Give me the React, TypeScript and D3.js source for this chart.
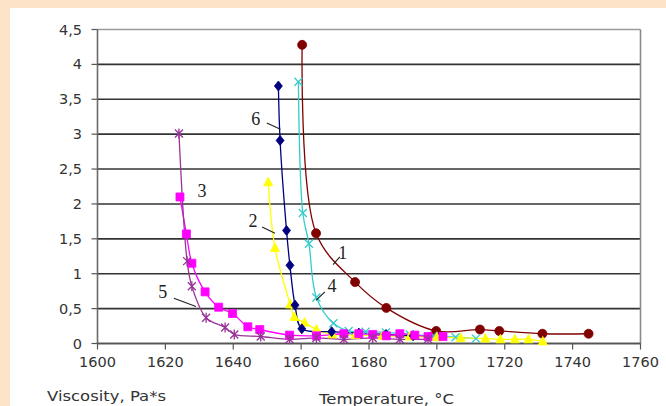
import * as d3 from "d3";

// temperature (°C) / viscosity (Pa*s) per curve
const t1 = [1660.3, 1664.4, 1675.9, 1685.1, 1699.8, 1712.7, 1718.4, 1731.1, 1744.7];
const v1 = [4.28, 1.58, 0.88, 0.51, 0.18, 0.2, 0.18, 0.14, 0.14];

const t2 = [1650.3, 1652.3, 1656.8, 1658, 1661, 1664.5, 1669.2, 1676, 1684, 1692, 1700, 1707, 1714.3, 1718.7, 1723, 1727, 1731.2];
const v2 = [2.31, 1.37, 0.56, 0.38, 0.3, 0.2, 0.13, 0.12, 0.11, 0.1, 0.09, 0.08, 0.07, 0.06, 0.06, 0.06, 0.03];

const t3 = [1624.3, 1626.2, 1627.8, 1631.7, 1635.7, 1639.8, 1644.3, 1647.8, 1656.6, 1664.5, 1672.6, 1677, 1681.1, 1685.1, 1689.1, 1693.5, 1697.4, 1701.8];
const v3 = [2.1, 1.57, 1.15, 0.74, 0.52, 0.43, 0.24, 0.2, 0.12, 0.11, 0.14, 0.14, 0.13, 0.11, 0.14, 0.12, 0.1, 0.1];

const t4 = [1659.2, 1660.5, 1662.3, 1664.5, 1669.5, 1674, 1679, 1685, 1692, 1699, 1705.5, 1711.5];
const v4 = [3.75, 1.87, 1.43, 0.66, 0.29, 0.18, 0.17, 0.16, 0.13, 0.11, 0.09, 0.07];

const t5 = [1624, 1626.4, 1627.8, 1632, 1637.6, 1640.3, 1648.1, 1656.6, 1664.5, 1672.6, 1681.1, 1689.1, 1697.4];
const v5 = [3.01, 1.18, 0.82, 0.37, 0.23, 0.13, 0.1, 0.06, 0.08, 0.06, 0.08, 0.06, 0.06];

const t6 = [1653.3, 1653.8, 1655.7, 1656.7, 1658.2, 1660.2, 1669, 1677, 1685, 1693];
const v6 = [3.69, 2.91, 1.62, 1.12, 0.55, 0.21, 0.17, 0.15, 0.13, 0.11];

const xTicks = [1600, 1620, 1640, 1660, 1680, 1700, 1720, 1740, 1760];
const yTicks = [0, 0.5, 1, 1.5, 2, 2.5, 3, 3.5, 4, 4.5];

// curve number labels: [text, labelT, labelV, leader from T,V, leader to T,V]
const curveLabels: [string, number, number, number, number, number, number][] = [
  ["6", 1646.6, 3.22, 1649.9, 3.16, 1653.9, 3.07],
  ["3", 1630.8, 2.19, 0, 0, 0, 0],
  ["2", 1645.8, 1.76, 1648.5, 1.67, 1652.3, 1.58],
  ["1", 1672.3, 1.3, 1671.4, 1.24, 1669.4, 1.13],
  ["4", 1669.1, 0.82, 1667, 0.74, 1664.4, 0.62],
  ["5", 1619.2, 0.74, 1622.5, 0.65, 1629, 0.53],
];

type Marker = "circle" | "diamond" | "triangle" | "x" | "square" | "star";

const series: { t: number[]; v: number[]; color: string; marker: Marker }[] = [
  { t: t1, v: v1, color: "#800000", marker: "circle" },
  { t: t4, v: v4, color: "#33CCCC", marker: "x" },
  { t: t2, v: v2, color: "#FFFF00", marker: "triangle" },
  { t: t6, v: v6, color: "#000080", marker: "diamond" },
  { t: t3, v: v3, color: "#FF00FF", marker: "square" },
  { t: t5, v: v5, color: "#993399", marker: "star" },
];

const fmt = (d: number) => String(d).replace(".", ",");

function markerPath(m: Marker): string {
  switch (m) {
    case "circle":
      return d3.symbol(d3.symbolCircle, 64)()!;
    case "diamond":
      return `M0,-5L4,0L0,5L-4,0Z`;
    case "triangle":
      return `M0,-5L4.5,3.5L-4.5,3.5Z`;
    case "square":
      return `M-4,-4H4V4H-4Z`;
    case "x":
      return `M-4,-4L4,4M-4,4L4,-4`;
    case "star":
      return `M-4,-4L4,4M-4,4L4,-4M0,-5V5`;
  }
  return "";
}

export default function App() {
  const x = d3.scaleLinear().domain([1600, 1760]).range([97.5, 640.5]);
  const y = d3.scaleLinear().domain([0, 4.5]).range([343.5, 29.5]);

  const line = d3
    .line<[number, number]>()
    .x((d) => x(d[0]))
    .y((d) => y(d[1]))
    .curve(d3.curveCatmullRom.alpha(0.5));

  return (
    <div style={{ position: "absolute", left: 0, top: 0, width: 666, height: 406 }}>
      <svg width={666} height={406} style={{ display: "block" }}>
        <rect x={0} y={0} width={666} height={406} fill="#FDE3C8" />
        <rect x={10} y={8} width={656} height={398} fill="#FFFFFF" />

        {/* grid */}
        {yTicks.map((d) => (
          <line
            key={"g" + d}
            x1={x(1600)}
            x2={x(1760)}
            y1={y(d)}
            y2={y(d)}
            stroke={d === 4.5 ? "#9a9a9a" : "#333"}
            strokeWidth={d === 4.5 ? 1.5 : 1.6}
          />
        ))}
        <line x1={x(1760)} x2={x(1760)} y1={y(4.5)} y2={y(0)} stroke="#8a8a8a" strokeWidth={1.6} />
        <line x1={x(1600)} x2={x(1600)} y1={y(4.5)} y2={y(0)} stroke="#6a6a6a" strokeWidth={1.6} />
        <line x1={x(1600)} x2={x(1760)} y1={y(0)} y2={y(0)} stroke="#555" strokeWidth={1.6} />

        {/* y ticks */}
        {yTicks.map((d) => (
          <g key={"y" + d}>
            <line x1={x(1600) - 6} x2={x(1600)} y1={y(d)} y2={y(d)} stroke="#555" strokeWidth={1.2} />
            <text
              x={82}
              y={y(d) + 5}
              textAnchor="end"
              fontFamily="DejaVu Sans"
              fontSize={14.5}
              fill="#333"
            >
              {fmt(d)}
            </text>
          </g>
        ))}

        {/* x ticks */}
        {xTicks.map((d) => (
          <g key={"x" + d}>
            <line x1={x(d)} x2={x(d)} y1={y(0)} y2={y(0) + 6} stroke="#555" strokeWidth={1.2} />
            <text
              x={x(d)}
              y={367}
              textAnchor="middle"
              fontFamily="DejaVu Sans"
              fontSize={14.5}
              fill="#333"
            >
              {d}
            </text>
          </g>
        ))}

        {/* curves */}
        {series.map((s, i) => (
          <path
            key={"l" + i}
            d={line(s.t.map((t, j) => [t, s.v[j]] as [number, number])) ?? ""}
            fill="none"
            stroke={s.color}
            strokeWidth={1.3}
          />
        ))}
        {series.map((s, i) => (
          <g key={"m" + i}>
            {s.t.map((t, j) => {
              const stroked = s.marker === "x" || s.marker === "star";
              return (
                <path
                  key={j}
                  transform={`translate(${x(t)},${y(s.v[j])})`}
                  d={markerPath(s.marker)}
                  fill={stroked ? "none" : s.color}
                  stroke={s.color}
                  strokeWidth={stroked ? 1.3 : 0.8}
                />
              );
            })}
          </g>
        ))}

        {/* curve labels */}
        {curveLabels.map(([txt, lt, lv, a, b, c, e]) => (
          <g key={"c" + txt}>
            {a > 0 && (
              <line x1={x(a)} y1={y(b)} x2={x(c)} y2={y(e)} stroke="#222" strokeWidth={1.1} />
            )}
            <text
              x={x(lt)}
              y={y(lv) + 6}
              textAnchor="middle"
              fontFamily="Liberation Serif"
              fontSize={18}
              fill="#222"
            >
              {txt}
            </text>
          </g>
        ))}

        <text
          x={47}
          y={401}
          fontFamily="DejaVu Sans"
          fontSize={14}
          fill="#333"
          textLength={119}
          lengthAdjust="spacingAndGlyphs"
        >
          Viscosity, Pa*s
        </text>
        <text
          x={319}
          y={404}
          fontFamily="DejaVu Sans"
          fontSize={14}
          fill="#333"
          textLength={135}
          lengthAdjust="spacingAndGlyphs"
        >
          Temperature, °C
        </text>
      </svg>
    </div>
  );
}
